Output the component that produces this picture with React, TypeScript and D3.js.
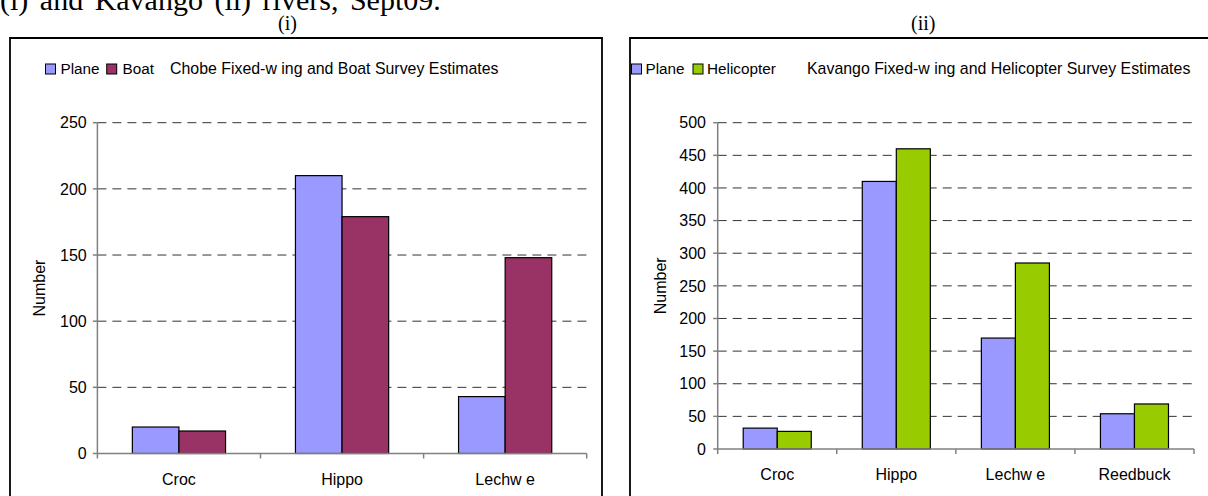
import React from "react";
import * as d3 from "d3";

// Survey estimates per species, Chobe (fixed-wing vs boat)
const chobeCategories = ["Croc", "Hippo", "Lechw e"];
const chobePlane = [20, 210, 43];
const chobeBoat = [17, 179, 148];
const chobeTicks = [0, 50, 100, 150, 200, 250];

// Survey estimates per species, Kavango (fixed-wing vs helicopter)
const kavangoCategories = ["Croc", "Hippo", "Lechw e", "Reedbuck"];
const kavangoPlane = [32, 410, 170, 54];
const kavangoHeli = [27, 460, 285, 69];
const kavangoTicks = [0, 50, 100, 150, 200, 250, 300, 350, 400, 450, 500];

const chobeSeries = ["Plane", "Boat"];
const kavangoSeries = ["Plane", "Helicopter"];

const COLORS: Record<string, string> = {
  Plane: "#9999FF",
  Boat: "#993366",
  Helicopter: "#99CC00",
};

const SANS = "Arial, 'Liberation Sans', sans-serif";
const SERIF = "'Times New Roman', 'Liberation Serif', serif";

type PanelProps = {
  frame: { x0: number; x1: number; top: number };
  plot: { left: number; right: number; top: number; bottom: number };
  categories: string[];
  seriesNames: string[];
  seriesValues: number[][];
  ticks: number[];
  yMax: number;
  tickLabelGap: number;
  yTitleX: number;
  catLabelY: number;
  legend: { swatchX: number[]; textX: number[]; titleX: number; title: string };
};

function Panel(p: PanelProps) {
  const { plot } = p;
  const y = d3.scaleLinear().domain([0, p.yMax]).range([plot.bottom, plot.top]);
  const x0 = d3.scaleBand<string>().domain(p.categories).range([plot.left, plot.right]).padding(0);
  // two bars per category with a 150% gap on the sides
  const x1 = d3
    .scaleBand<string>()
    .domain(p.seriesNames)
    .range([0, x0.bandwidth()])
    .paddingInner(0)
    .paddingOuter(0.75);

  const boundaries = p.categories.map((c) => x0(c) as number).concat([plot.right]);

  return (
    <g>
      {/* chart frame */}
      <path
        d={`M${p.frame.x0},520 V${p.frame.top} H${p.frame.x1} V520`}
        fill="none"
        stroke="#000"
        strokeWidth={1.8}
      />

      {/* legend + title */}
      {p.seriesNames.map((s, i) => (
        <g key={s}>
          <rect
            x={p.legend.swatchX[i]}
            y={64}
            width={10}
            height={10}
            fill={COLORS[s]}
            stroke="#000"
            strokeWidth={1}
          />
          <text x={p.legend.textX[i]} y={73.5} fontSize={15.3} fontFamily={SANS} fill="#000">
            {s}
          </text>
        </g>
      ))}
      <text x={p.legend.titleX} y={73.5} fontSize={15.9} fontFamily={SANS} fill="#000">
        {p.legend.title}
      </text>

      {/* dashed gridlines */}
      {p.ticks
        .filter((t) => t > 0)
        .map((t) => (
          <line
            key={`g${t}`}
            x1={plot.left}
            x2={plot.right}
            y1={y(t)}
            y2={y(t)}
            stroke="#333"
            strokeWidth={1}
            strokeDasharray="9,6"
          />
        ))}

      {/* bars */}
      {p.categories.map((c, ci) => (
        <g key={c} transform={`translate(${x0(c)},0)`}>
          {p.seriesNames.map((s, si) => {
            const v = p.seriesValues[si][ci];
            return (
              <rect
                key={s}
                x={x1(s)}
                y={y(v)}
                width={x1.bandwidth()}
                height={y(0) - y(v)}
                fill={COLORS[s]}
                stroke="#000"
                strokeWidth={1.2}
              />
            );
          })}
        </g>
      ))}

      {/* y axis */}
      <line x1={plot.left} x2={plot.left} y1={plot.top} y2={plot.bottom} stroke="#808080" strokeWidth={1.5} />
      {p.ticks.map((t) => (
        <g key={`t${t}`}>
          <line x1={plot.left - 4.5} x2={plot.left} y1={y(t)} y2={y(t)} stroke="#808080" strokeWidth={1.5} />
          <text
            x={plot.left - p.tickLabelGap}
            y={y(t) + 5.7}
            textAnchor="end"
            fontSize={16}
            fontFamily={SANS}
            fill="#000"
          >
            {t}
          </text>
        </g>
      ))}
      <text
        transform={`translate(${p.yTitleX},${(plot.top + plot.bottom) / 2}) rotate(-90)`}
        textAnchor="middle"
        fontSize={16}
        fontFamily={SANS}
        fill="#000"
      >
        Number
      </text>

      {/* x axis */}
      <line x1={plot.left} x2={plot.right} y1={plot.bottom} y2={plot.bottom} stroke="#808080" strokeWidth={1.5} />
      {boundaries.map((bx, i) => (
        <line key={`xt${i}`} x1={bx} x2={bx} y1={plot.bottom} y2={plot.bottom + 5} stroke="#808080" strokeWidth={1.5} />
      ))}
      {p.categories.map((c) => (
        <text
          key={`l${c}`}
          x={(x0(c) as number) + x0.bandwidth() / 2}
          y={p.catLabelY}
          textAnchor="middle"
          fontSize={16}
          fontFamily={SANS}
          fill="#000"
        >
          {c}
        </text>
      ))}
    </g>
  );
}

export default function App() {
  return (
    <svg
      width={1208}
      height={496}
      style={{ position: "absolute", left: 0, top: 0, background: "#fff" }}
    >
      <rect width={1208} height={496} fill="#fff" />
      <text x={0} y={9.5} fontSize={30} fontFamily={SERIF} wordSpacing={4} fill="#000">
        (i) and Kavango (ii) rivers, Sept09.
      </text>
      <text x={278} y={30} fontSize={20} fontFamily={SERIF} fill="#000">
        (i)
      </text>
      <text x={911} y={30} fontSize={20} fontFamily={SERIF} fill="#000">
        (ii)
      </text>

      <Panel
        frame={{ x0: 10, x1: 602, top: 38 }}
        plot={{ left: 97.4, right: 586.7, top: 122.7, bottom: 453.5 }}
        categories={chobeCategories}
        seriesNames={chobeSeries}
        seriesValues={[chobePlane, chobeBoat]}
        ticks={chobeTicks}
        yMax={250}
        tickLabelGap={10.7}
        yTitleX={45}
        catLabelY={485}
        legend={{
          swatchX: [45.5, 106.7],
          textX: [60.5, 122.5],
          titleX: 170,
          title: "Chobe Fixed-w ing and Boat Survey Estimates",
        }}
      />

      <Panel
        frame={{ x0: 630, x1: 1218, top: 38 }}
        plot={{ left: 717.7, right: 1194, top: 122.7, bottom: 449 }}
        categories={kavangoCategories}
        seriesNames={kavangoSeries}
        seriesValues={[kavangoPlane, kavangoHeli]}
        ticks={kavangoTicks}
        yMax={500}
        tickLabelGap={11.7}
        yTitleX={666}
        catLabelY={480}
        legend={{
          swatchX: [631.5, 693],
          textX: [645.5, 707],
          titleX: 807,
          title: "Kavango Fixed-w ing and Helicopter Survey Estimates",
        }}
      />
    </svg>
  );
}
